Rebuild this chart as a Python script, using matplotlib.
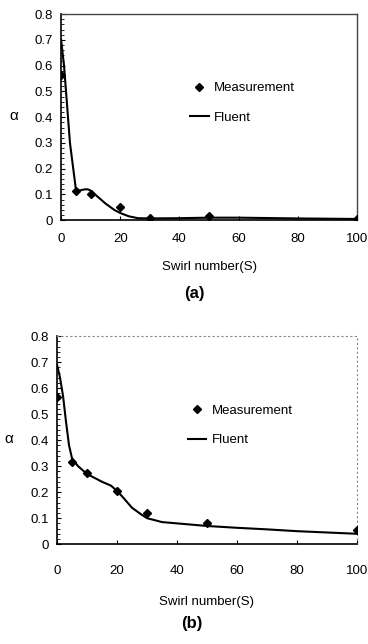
import matplotlib.pyplot as plt
from matplotlib.ticker import MultipleLocator

plt.rcParams["font.family"] = ["Liberation Sans", "DejaVu Sans"]

# panel (a)
meas_x_a = [0, 5, 10, 20, 30, 50, 100]
meas_y_a = [0.565, 0.115, 0.10, 0.05, 0.01, 0.015, 0.005]
fluent_x_a = [0, 1, 3, 5, 6, 8, 9, 10, 12, 15, 18, 20, 23, 26, 30, 40, 50, 60, 80, 100]
fluent_y_a = [0.70, 0.60, 0.30, 0.12, 0.115, 0.12, 0.12, 0.115, 0.095, 0.065,
              0.04, 0.028, 0.015, 0.008, 0.007, 0.008, 0.01, 0.01, 0.007, 0.005]

# panel (b)
meas_x_b = [0, 5, 10, 20, 30, 50, 100]
meas_y_b = [0.565, 0.315, 0.275, 0.205, 0.12, 0.08, 0.055]
fluent_x_b = [0, 1, 2, 3, 4, 5, 7, 10, 15, 18, 20, 22, 25, 28, 30, 35, 40, 50,
              60, 70, 80, 90, 100]
fluent_y_b = [0.69, 0.64, 0.57, 0.47, 0.38, 0.33, 0.30, 0.27, 0.24, 0.225, 0.205,
              0.18, 0.14, 0.115, 0.10, 0.085, 0.08, 0.07, 0.063, 0.057, 0.05,
              0.045, 0.04]

x_ticks = [0, 20, 40, 60, 80, 100]
y_ticks = [0, 0.1, 0.2, 0.3, 0.4, 0.5, 0.6, 0.7, 0.8]
y_labels = ["0", "0.1", "0.2", "0.3", "0.4", "0.5", "0.6", "0.7", "0.8"]

fig = plt.figure(figsize=(3.68, 6.44), dpi=100)
ax_a = fig.add_axes([0.166, 0.658, 0.804, 0.320])
ax_b = fig.add_axes([0.155, 0.155, 0.815, 0.323])


def style_axis(ax, meas_x, meas_y, fl_x, fl_y, caption, faint_frame,
               xpad, xlabelpad, caption_y):
    ax.plot(fl_x, fl_y, color="black", lw=1.5, label="Fluent", zorder=2)
    ax.plot(meas_x, meas_y, ls="none", marker="D", ms=4.5, color="black",
            label="Measurement", zorder=3)
    ax.set_xlim(0, 100)
    ax.set_ylim(0, 0.8)
    ax.set_xticks(x_ticks)
    ax.set_yticks(y_ticks)
    ax.set_yticklabels(y_labels)
    ax.yaxis.set_minor_locator(MultipleLocator(0.02))
    ax.tick_params(axis="both", which="major", direction="in", length=3,
                   labelsize=9.5, pad=6)
    ax.tick_params(axis="y", which="minor", direction="in", length=2)
    ax.tick_params(axis="x", pad=xpad)
    for side in ("left", "bottom"):
        ax.spines[side].set_linewidth(1.2)
    if faint_frame:
        for side in ("top", "right"):
            ax.spines[side].set_linestyle((0, (1, 3)))
            ax.spines[side].set_color("#888888")
            ax.spines[side].set_linewidth(0.8)
    else:
        for side in ("top", "right"):
            ax.spines[side].set_color("#444444")
            ax.spines[side].set_linewidth(1.0)
    ax.set_xlabel("Swirl number(S)", fontsize=9.5, labelpad=xlabelpad)
    ax.set_ylabel("α", rotation=0, fontsize=11)
    ax.yaxis.set_label_coords(-0.16, 0.47)
    ax.legend(loc="center left", bbox_to_anchor=(0.436, 0.57), frameon=False,
              fontsize=9.5, handlelength=1.4, handletextpad=0.4,
              labelspacing=1.3, borderpad=0, borderaxespad=0, reverse=True)
    ax.text(0.45, caption_y, caption, transform=ax.transAxes, ha="center",
            va="center", fontsize=12, fontweight="bold")


style_axis(ax_a, meas_x_a, meas_y_a, fluent_x_a, fluent_y_a, "(a)", False,
           9, 12, -0.355)
style_axis(ax_b, meas_x_b, meas_y_b, fluent_x_b, fluent_y_b, "(b)", True,
           15, 14, -0.38)

fig.savefig("out.png", dpi=100)
